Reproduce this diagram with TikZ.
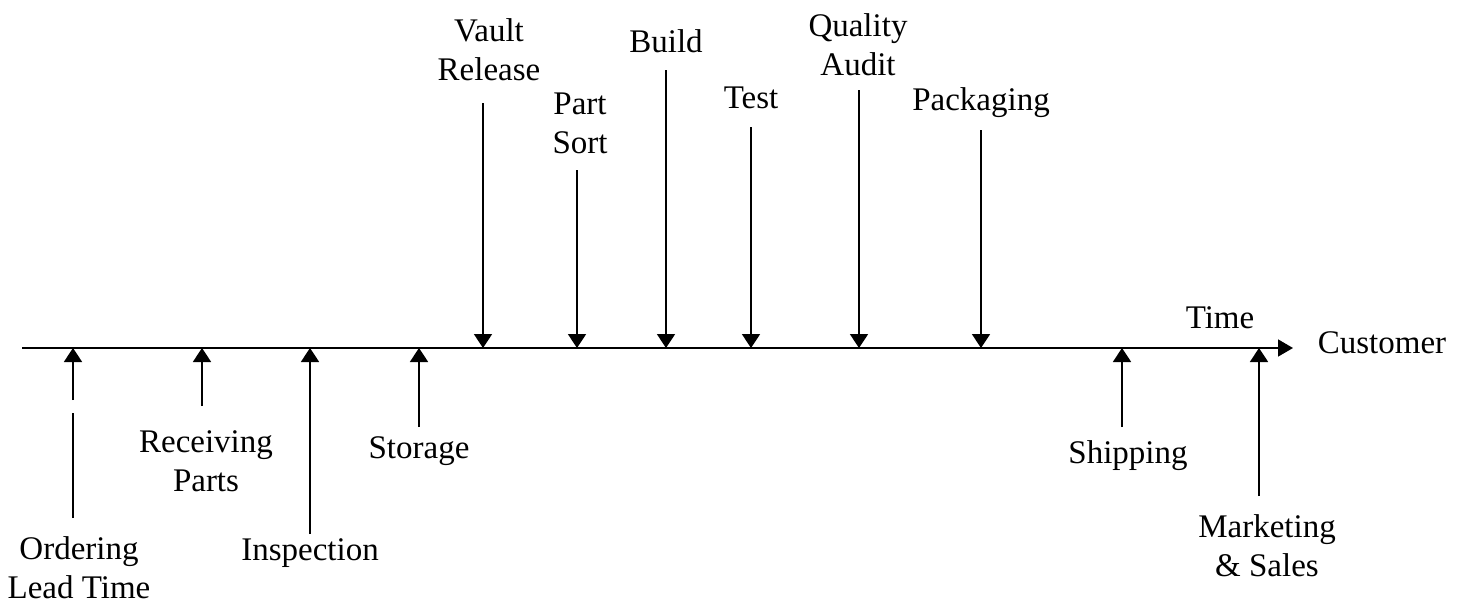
\documentclass[tikz,border=0pt]{standalone}
\usepackage{fontspec}
\setmainfont{Liberation Serif}
\usetikzlibrary{arrows.meta}
\begin{document}
\begin{tikzpicture}[x=1pt,y=-1pt,
  lbl/.style={anchor=base,align=center,inner sep=0pt,font=\fontsize{33}{39}\selectfont},
  conn/.style={line width=1.8pt,-{Triangle[length=14pt,width=18pt]}},
  axis/.style={line width=1.6pt,-{Triangle[length=15pt,width=17pt]}}]
\useasboundingbox (0,0) rectangle (1464,605);
% time axis
\coordinate (start) at (22,348);
\coordinate (end) at (1293,348);
\draw[axis] (start) -- (end);
\node[lbl] (time) at (1220,328) {Time};
\node[lbl] (cust) at (1382,353) {Customer};
% labels below (base = last line)
\node[lbl] (ord) at (79,598) {Ordering\\Lead Time};
\node[lbl] (rec) at (206,491) {Receiving\\Parts};
\node[lbl] (insp) at (310,560) {Inspection};
\node[lbl] (stor) at (419,458) {Storage};
\node[lbl] (ship) at (1128,463) {Shipping};
\node[lbl] (mkt) at (1267,576) {Marketing\\\&~Sales};
% labels above
\node[lbl] (vault) at (489,80) {Vault\\Release};
\node[lbl] (sort) at (580,153) {Part\\Sort};
\node[lbl] (build) at (666,52) {Build};
\node[lbl] (test) at (751,108) {Test};
\node[lbl] (qa) at (858,75) {Quality\\Audit};
\node[lbl] (pack) at (981,110) {Packaging};
% tail ends
\coordinate (ordT) at (73,518);
\coordinate (ordG1) at (73,413);
\coordinate (ordG2) at (73,400);
\coordinate (ordH) at (73,348);
\coordinate (recT) at (202,406);
\coordinate (recH) at (202,348);
\coordinate (inspT) at (310,534);
\coordinate (inspH) at (310,348);
\coordinate (storT) at (419,427);
\coordinate (storH) at (419,348);
\coordinate (shipT) at (1122,427);
\coordinate (shipH) at (1122,348);
\coordinate (mktT) at (1259,496);
\coordinate (mktH) at (1259,348);
\coordinate (vaultT) at (483,103);
\coordinate (vaultH) at (483,348);
\coordinate (sortT) at (577,170);
\coordinate (sortH) at (577,348);
\coordinate (buildT) at (666,70);
\coordinate (buildH) at (666,348);
\coordinate (testT) at (751,127);
\coordinate (testH) at (751,348);
\coordinate (qaT) at (859,90);
\coordinate (qaH) at (859,348);
\coordinate (packT) at (981,130);
\coordinate (packH) at (981,348);
% connectors
\draw[line width=1.8pt] (ordT) -- (ordG1);
\draw[conn] (ordG2) -- (ordH);
\draw[conn] (recT) -- (recH);
\draw[conn] (inspT) -- (inspH);
\draw[conn] (storT) -- (storH);
\draw[conn] (shipT) -- (shipH);
\draw[conn] (mktT) -- (mktH);
\draw[conn] (vaultT) -- (vaultH);
\draw[conn] (sortT) -- (sortH);
\draw[conn] (buildT) -- (buildH);
\draw[conn] (testT) -- (testH);
\draw[conn] (qaT) -- (qaH);
\draw[conn] (packT) -- (packH);
\end{tikzpicture}
\end{document}
